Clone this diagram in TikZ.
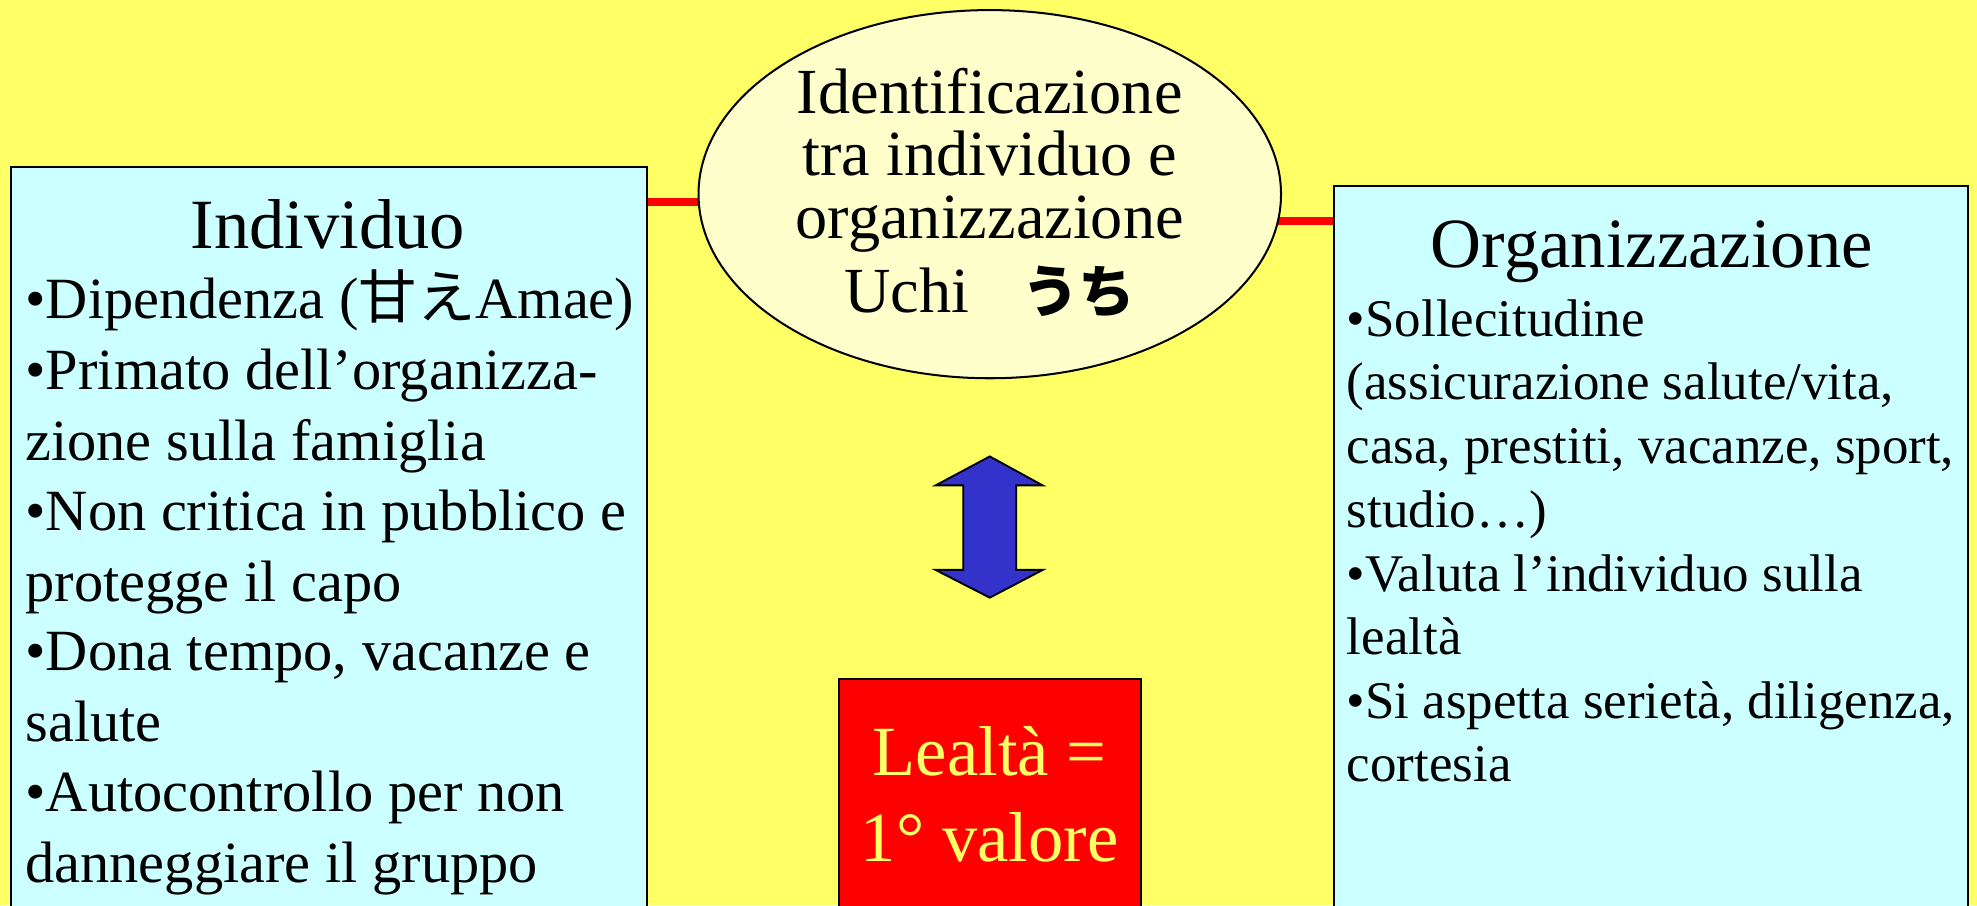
\documentclass[tikz,border=0pt]{standalone}
\usepackage{fontspec}
\setmainfont{Liberation Serif}
\newfontfamily\cjk{Noto Sans CJK JP}
\usetikzlibrary{shapes.geometric}
\definecolor{bgyellow}{HTML}{FFFF66}
\definecolor{boxcyan}{HTML}{CCFFFF}
\definecolor{ellcream}{HTML}{FFFFCC}
\definecolor{arrowblue}{HTML}{3333CC}
\definecolor{boxred}{HTML}{FF0000}
\pgfdeclarelayer{bg}
\pgfsetlayers{bg,main}
\begin{document}
\begin{tikzpicture}[x=1pt,y=-1pt,
  panel/.style={draw=black, line width=1.6pt, fill=boxcyan, inner sep=0pt, anchor=north west},
  titletxt/.style={anchor=base, inner sep=0pt, font=\fontsize{56}{60}\selectfont},
  ltxt/.style={anchor=base west, inner sep=0pt, font=\fontsize{46.3}{50}\selectfont},
  rtxt/.style={anchor=base west, inner sep=0pt, font=\fontsize{42}{46}\selectfont},
  etxt/.style={anchor=base, inner sep=0pt, font=\fontsize{51}{55}\selectfont},
  vtxt/.style={anchor=base, inner sep=0pt, text=bgyellow, font=\fontsize{56}{60}\selectfont},
  redline/.style={draw=boxred, line width=6.5pt}]
\useasboundingbox (0,0) rectangle (1568,718);
\clip (0,0) rectangle (1568,718);

% left panel
\node[panel, minimum width=504pt, minimum height=620pt] (ind) at (8,132) {};
\node[titletxt] (indt) at (260,197) {Individuo};
\node[ltxt] (i1) at (20,253) {•Dipendenza ({\cjk 甘え}Amae)};
\node[ltxt] (i2) at (20,309) {•Primato dell’organizza-};
\node[ltxt] (i3) at (20,365) {zione sulla famiglia};
\node[ltxt] (i4) at (20,421) {•Non critica in pubblico e};
\node[ltxt] (i5) at (20,477) {protegge il capo};
\node[ltxt] (i6) at (20,532) {•Dona tempo, vacanze e};
\node[ltxt] (i7) at (20,588) {salute};
\node[ltxt] (i8) at (20,644) {•Autocontrollo per non};
\node[ltxt] (i9) at (20,700) {danneggiare il gruppo};

% right panel
\node[panel, minimum width=503pt, minimum height=600pt] (org) at (1057,147) {};
\node[titletxt] (orgt) at (1310,212) {Organizzazione};
\node[rtxt] (o1) at (1068,267) {•Sollecitudine};
\node[rtxt] (o2) at (1068,317) {(assicurazione salute/vita,};
\node[rtxt] (o3) at (1068,368) {casa, prestiti, vacanze, sport,};
\node[rtxt] (o4) at (1068,418) {studio…)};
\node[rtxt] (o5) at (1068,469) {•Valuta l’individuo sulla};
\node[rtxt] (o6) at (1068,519) {lealtà};
\node[rtxt] (o7) at (1068,570) {•Si aspetta serietà, diligenza,};
\node[rtxt] (o8) at (1068,620) {cortesia};

% central ellipse
\node[ellipse, draw=black, line width=1.6pt, fill=ellcream, minimum width=462pt, minimum height=292pt, inner sep=0pt] (ell) at (785,154) {};
\node[etxt] (e1) at (785,90) {Identificazione};
\node[etxt] (e2) at (785,139) {tra individuo e};
\node[etxt] (e3) at (785,189) {organizzazione};
\node[etxt] (e4) at (785,248) {Uchi\hspace{42pt}{\cjk\bfseries\fontsize{45}{50}\selectfont うち}};

% double arrow
\draw[fill=arrowblue, draw=black, line width=1.5pt, line join=miter]
  (785,362) -- (827,385) -- (806,385) -- (806,452) -- (827,452) -- (785,474)
  -- (742,452) -- (764,452) -- (764,385) -- (742,385) -- cycle;

% red value box
\node[draw=black, line width=1.6pt, fill=boxred, minimum width=239pt, minimum height=220pt, inner sep=0pt, anchor=north west] (val) at (665,538) {};
\node[vtxt] (v1) at (785,615) {Lealtà =};
\node[vtxt] (v2) at (785,683) {1° valore};

% background and connectors
\coordinate (j1) at (0,160);
\coordinate (j2) at (0,175);
\begin{pgfonlayer}{bg}
\fill[bgyellow] (0,0) rectangle (1568,718);
\draw[redline] (ind.east |- j1) -- (ell.center |- j1);
\draw[redline] (ell.center |- j2) -- (org.west |- j2);
\end{pgfonlayer}
\end{tikzpicture}
\end{document}
